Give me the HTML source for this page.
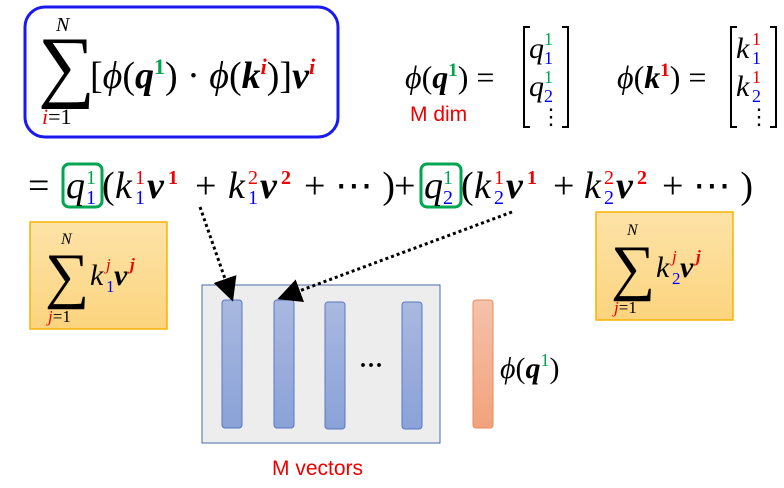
<!DOCTYPE html>
<html><head><meta charset="utf-8"><style>
html,body{margin:0;padding:0;background:#fff;}
svg{display:block;}
text{font-family:"Liberation Serif","DejaVu Serif",serif;}
.i{font-style:italic;}
.b{font-weight:bold;font-style:italic;}
</style></head><body>
<svg width="784" height="488" viewBox="0 0 784 488" xmlns="http://www.w3.org/2000/svg">
<defs>
<linearGradient id="og" x1="0" y1="0" x2="0" y2="1"><stop offset="0" stop-color="#fde3a8"/><stop offset="1" stop-color="#fcd47e"/></linearGradient>
<linearGradient id="bg" x1="0" y1="0" x2="0" y2="1"><stop offset="0" stop-color="#a9b9e0"/><stop offset="1" stop-color="#8aa2d8"/></linearGradient>
<linearGradient id="rg" x1="0" y1="0" x2="0" y2="1"><stop offset="0" stop-color="#f5c2ab"/><stop offset="1" stop-color="#f2a27c"/></linearGradient>
<marker id="ah" markerWidth="8" markerHeight="8" refX="6" refY="4" orient="auto"><path d="M0,0 L8,4 L0,8z" fill="#000"/></marker>
</defs>
<rect x="25" y="7" width="313" height="130" rx="20" fill="#fff" stroke="#1a1af0" stroke-width="3"/>
<text x="56" y="31" class="i" font-size="20">N</text>
<text x="38" y="92" font-size="80">∑</text>
<text x="42" y="124" font-size="22"><tspan class="i" fill="#e00">i</tspan>=1</text>
<text x="90" y="88" font-size="38"><tspan>[</tspan><tspan class="i">ϕ</tspan>(<tspan class="b">q</tspan><tspan font-size="22" dy="-14" fill="#00a550" font-weight="bold">1</tspan><tspan dy="14">) · </tspan><tspan class="i">ϕ</tspan>(<tspan class="b">k</tspan><tspan font-size="22" dy="-14" fill="#e00" class="b">i</tspan><tspan dy="14">)]</tspan><tspan class="b">v</tspan><tspan font-size="22" dy="-14" fill="#e00" class="b">i</tspan></text>
<text x="405" y="88" font-size="32"><tspan class="i">ϕ</tspan>(<tspan class="b">q</tspan><tspan font-size="19" dy="-12" fill="#00a550" font-weight="bold">1</tspan><tspan dy="12">) =</tspan></text>
<text x="410" y="121" font-size="21" fill="#e00" style="font-family:'Liberation Sans',sans-serif">M dim</text>
<path d="M530,27 h-6 v100 h6 M562,27 h6 v100 h-6" fill="none" stroke="#000" stroke-width="2"/>
<text x="529" y="58" font-size="30" class="i">q</text><text x="544" y="45" font-size="18" fill="#00a550">1</text><text x="544" y="64" font-size="18" fill="#00f">1</text>
<text x="529" y="96" font-size="30" class="i">q</text><text x="544" y="83" font-size="18" fill="#00a550">1</text><text x="544" y="102" font-size="18" fill="#00f">2</text>
<text x="540" y="124" font-size="22">⋮</text>
<text x="617" y="88" font-size="32"><tspan class="i">ϕ</tspan>(<tspan class="b">k</tspan><tspan font-size="19" dy="-12" fill="#e00" font-weight="bold">1</tspan><tspan dy="12">) =</tspan></text>
<path d="M737,27 h-6 v100 h6 M770,27 h6 v100 h-6" fill="none" stroke="#000" stroke-width="2"/>
<text x="736" y="58" font-size="30" class="i">k</text><text x="752" y="45" font-size="18" fill="#e00">1</text><text x="752" y="64" font-size="18" fill="#00f">1</text>
<text x="736" y="96" font-size="30" class="i">k</text><text x="752" y="83" font-size="18" fill="#e00">1</text><text x="752" y="102" font-size="18" fill="#00f">2</text>
<text x="748" y="124" font-size="22">⋮</text>
<rect x="63" y="164" width="39" height="43" rx="6" fill="none" stroke="#00a550" stroke-width="3"/>
<rect x="421" y="164" width="40" height="43" rx="6" fill="none" stroke="#00a550" stroke-width="3"/>
<text x="28" y="198" font-size="38">=</text>
<g font-size="38">
<text x="66" y="198" class="i">q</text><text x="86" y="184" font-size="20" fill="#00a550">1</text><text x="86" y="204" font-size="20" fill="#00f">1</text>
<text x="102" y="198">(</text>
<text x="115" y="198" class="i">k</text><text x="135" y="184" font-size="20" fill="#e00">1</text><text x="135" y="204" font-size="20" fill="#00f">1</text>
<text x="147" y="198" class="b">v</text><text x="168" y="184" font-size="20" fill="#e00" font-weight="bold">1</text>
<text x="195" y="198">+</text>
<text x="228" y="198" class="i">k</text><text x="248" y="184" font-size="20" fill="#e00">2</text><text x="248" y="204" font-size="20" fill="#00f">1</text>
<text x="260" y="198" class="b">v</text><text x="281" y="184" font-size="20" fill="#e00" font-weight="bold">2</text>
<text x="304" y="198">+ ⋯ )</text>
<text x="394" y="198">+</text>
<text x="424" y="198" class="i">q</text><text x="443" y="184" font-size="20" fill="#00a550">1</text><text x="443" y="204" font-size="20" fill="#00f">2</text>
<text x="461" y="198">(</text>
<text x="474" y="198" class="i">k</text><text x="494" y="184" font-size="20" fill="#e00">1</text><text x="494" y="204" font-size="20" fill="#00f">2</text>
<text x="506" y="198" class="b">v</text><text x="527" y="184" font-size="20" fill="#e00" font-weight="bold">1</text>
<text x="553" y="198">+</text>
<text x="584" y="198" class="i">k</text><text x="604" y="184" font-size="20" fill="#e00">2</text><text x="604" y="204" font-size="20" fill="#00f">2</text>
<text x="616" y="198" class="b">v</text><text x="637" y="184" font-size="20" fill="#e00" font-weight="bold">2</text>
<text x="662" y="198">+ ⋯ )</text>
</g>
<rect x="30" y="222" width="137" height="107" fill="url(#og)" stroke="#f5b400" stroke-width="1.5"/>
<text x="61" y="244" class="i" font-size="16">N</text>
<text x="45" y="296" font-size="62">∑</text>
<text x="48" y="322" font-size="17"><tspan class="i" fill="#e00">j</tspan>=1</text>
<text x="90" y="285" class="i" font-size="30">k</text><text x="106" y="270" class="i" font-size="17" fill="#e00">j</text><text x="106" y="292" font-size="17" fill="#00f">1</text>
<text x="114" y="285" class="b" font-size="30">v</text><text x="130" y="270" class="b" font-size="17" fill="#e00">j</text>
<rect x="596" y="212" width="137" height="108" fill="url(#og)" stroke="#f5b400" stroke-width="1.5"/>
<text x="627" y="235" class="i" font-size="16">N</text>
<text x="611" y="288" font-size="62">∑</text>
<text x="614" y="313" font-size="17"><tspan class="i" fill="#e00">j</tspan>=1</text>
<text x="656" y="277" class="i" font-size="30">k</text><text x="672" y="262" class="i" font-size="17" fill="#e00">j</text><text x="672" y="284" font-size="17" fill="#00f">2</text>
<text x="680" y="277" class="b" font-size="30">v</text><text x="696" y="262" class="b" font-size="17" fill="#e00">j</text>
<rect x="202" y="285" width="238" height="158" fill="#ededed" stroke="#4a6aa8" stroke-width="1"/>
<rect x="222" y="300" width="20" height="128" rx="3" fill="url(#bg)" stroke="#5a78c0"/>
<rect x="274" y="300" width="20" height="128" rx="3" fill="url(#bg)" stroke="#5a78c0"/>
<rect x="325" y="302" width="20" height="127" rx="3" fill="url(#bg)" stroke="#5a78c0"/>
<rect x="402" y="302" width="20" height="127" rx="3" fill="url(#bg)" stroke="#5a78c0"/>
<text x="359" y="373" font-size="24" font-weight="bold">···</text>
<rect x="473" y="300" width="20" height="128" rx="3" fill="url(#rg)" stroke="#ed8a5c"/>
<text x="500" y="378" font-size="30"><tspan class="i">ϕ</tspan>(<tspan class="b">q</tspan><tspan font-size="18" dy="-12" fill="#00a550">1</tspan><tspan dy="12">)</tspan></text>
<text x="272" y="475" font-size="21" fill="#e00" style="font-family:'Liberation Sans',sans-serif">M vectors</text>
<line x1="200" y1="207" x2="231" y2="296" stroke="#000" stroke-width="3" stroke-dasharray="3,3" marker-end="url(#ah)"/>
<line x1="512" y1="212" x2="283" y2="297" stroke="#000" stroke-width="3" stroke-dasharray="3,3" marker-end="url(#ah)"/>
</svg>
</body></html>
